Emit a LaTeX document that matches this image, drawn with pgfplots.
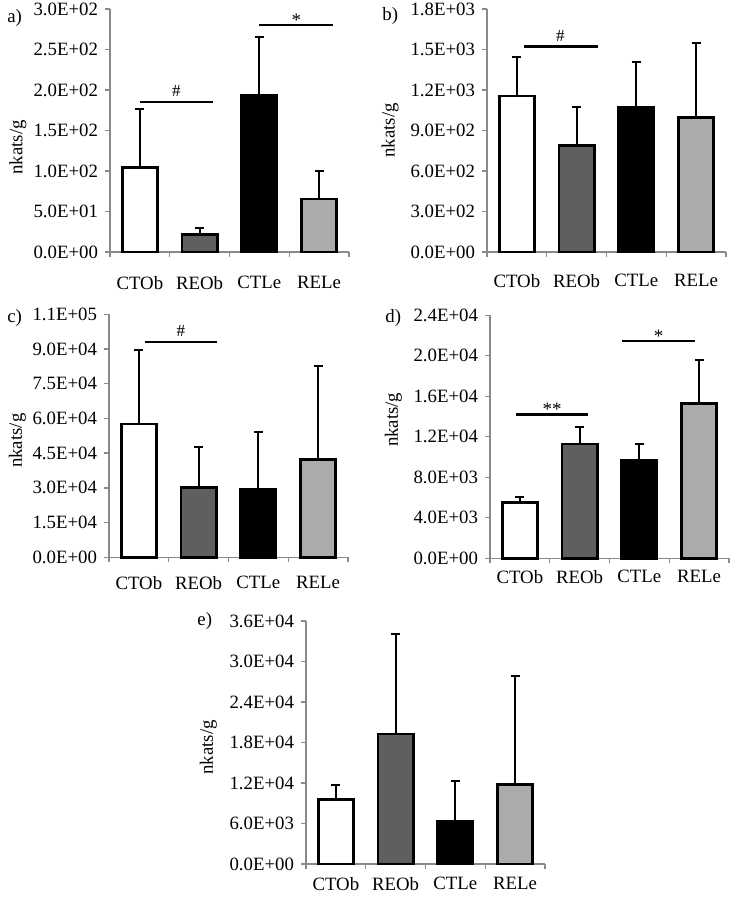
\documentclass[border=0pt]{standalone}
\usepackage{fontspec}
\setmainfont{Liberation Serif}
\usepackage{pgfplots}
\pgfplotsset{compat=1.18}
\definecolor{darkbar}{HTML}{5F5F5F}
\definecolor{lightbar}{HTML}{ABABAB}
\definecolor{axgray}{HTML}{8A8A8A}
\newcommand{\tfont}{\fontsize{9.4}{11}\selectfont}
\pgfplotsset{
  panel/.style={
    width=119.5pt, height=121.5pt, scale only axis, anchor=south west,
    axis x line*=bottom, axis y line*=left,
    axis line style={draw=axgray, line width=0.7pt},
    xmin=-0.5, xmax=3.5, ymin=0,
    xtick={-0.5,0.5,1.5,2.5,3.5},
    x tick label as interval,
    xticklabels={CTOb,REOb,CTLe,RELe},
    scaled y ticks=false,
    tick align=outside,
    major tick length=2.5pt,
    every tick/.style={draw=axgray, line width=0.7pt},
    tick label style={font=\tfont},
    ylabel={nkats/g},
    clip=false,
  },
  mybar/.style={ybar, bar width=0.59, bar shift=0pt, draw=black, line width=1.3pt,
    error bars/y dir=plus, error bars/y explicit,
    error bars/error bar style={line width=1pt, black},
    error bars/error mark options={rotate=90, line width=1pt, mark size=2.2pt, black}},
  sig/.style={black, line width=1.1pt, no marks, forget plot},
}
\newcommand{\hashfont}{\fontsize{8.5}{9}\selectfont}
\newcommand{\starfont}{\fontsize{9.5}{10}\selectfont}
\begin{document}
\begin{tikzpicture}
\path[use as bounding box] (0,0) rectangle (367pt,448.5pt);
% a
\begin{axis}[panel, at={(55pt,322.5pt)}, ymax=300,
  xticklabel style={yshift=-6pt},
  ytick={0,50,100,150,200,250,300},
  yticklabels={0.0E+00,5.0E+01,1.0E+02,1.5E+02,2.0E+02,2.5E+02,3.0E+02},
  ylabel style={at={(rel axis cs:-0.385,0.43)}, anchor=center, font=\tfont}]
\addplot[fill=white, mybar] coordinates {(0,104) +- (0,72.6)};
\addplot[fill=darkbar, mybar] coordinates {(1,21.9) +- (0,8.2)};
\addplot[fill=black, mybar] coordinates {(2,194) +- (0,71.4)};
\addplot[fill=lightbar, mybar] coordinates {(3,65.2) +- (0,35.1)};
\addplot[sig] coordinates {(0,185.6) (1.22,185.6)};
\addplot[sig] coordinates {(2.0,279.8) (3.24,279.8)};
\node[font=\hashfont, anchor=base, yshift=2.5pt] at (axis cs:0.61,185.6) {\#};
\node[font=\starfont, anchor=base, yshift=-0.5pt] at (axis cs:2.62,279.8) {*};
\end{axis}
% b
\begin{axis}[panel, at={(243.5pt,322.5pt)}, ymax=1800,
  xticklabel style={yshift=-5pt},
  ytick={0,300,600,900,1200,1500,1800},
  yticklabels={0.0E+00,3.0E+02,6.0E+02,9.0E+02,1.2E+03,1.5E+03,1.8E+03},
  ylabel style={at={(rel axis cs:-0.405,0.5)}, anchor=center, font=\tfont}]
\addplot[fill=white, mybar] coordinates {(0,1154) +- (0,291)};
\addplot[fill=darkbar, mybar] coordinates {(1,787) +- (0,285)};
\addplot[fill=black, mybar] coordinates {(2,1072) +- (0,338)};
\addplot[fill=lightbar, mybar] coordinates {(3,998) +- (0,551)};
\addplot[sig] coordinates {(0.117,1522) (1.35,1522)};
\node[font=\hashfont, anchor=base, yshift=2.5pt] at (axis cs:0.73,1522) {\#};
\end{axis}
% c
\begin{axis}[panel, at={(54.5pt,169.85pt)}, ymax=105000,
  xticklabel style={yshift=-3.5pt},
  ytick={0,15000,30000,45000,60000,75000,90000,105000},
  yticklabels={0.0E+00,1.5E+04,3.0E+04,4.5E+04,6.0E+04,7.5E+04,9.0E+04,1.1E+05},
  ylabel style={at={(rel axis cs:-0.383,0.48)}, anchor=center, font=\tfont}]
\addplot[fill=white, mybar] coordinates {(0,57534) +- (0,32219)};
\addplot[fill=darkbar, mybar] coordinates {(1,30062) +- (0,17691)};
\addplot[fill=black, mybar] coordinates {(2,29342) +- (0,24596)};
\addplot[fill=lightbar, mybar] coordinates {(3,42144) +- (0,40561)};
\addplot[sig] coordinates {(0.10,93062) (1.31,93062)};
\node[font=\hashfont, anchor=base, yshift=2.5pt] at (axis cs:0.705,93062) {\#};
\end{axis}
% d
\begin{axis}[panel, at={(245pt,169.35pt)}, ymax=24000,
  xticklabel style={yshift=0pt},
  ytick={0,4000,8000,12000,16000,20000,24000},
  yticklabels={0.0E+00,4.0E+03,8.0E+03,1.2E+04,1.6E+04,2.0E+04,2.4E+04},
  ylabel style={at={(rel axis cs:-0.404,0.57)}, anchor=center, font=\tfont}]
\addplot[fill=white, mybar] coordinates {(0,5490) +- (0,526)};
\addplot[fill=darkbar, mybar] coordinates {(1,11277) +- (0,1709)};
\addplot[fill=black, mybar] coordinates {(2,9699) +- (0,1545)};
\addplot[fill=lightbar, mybar] coordinates {(3,15288) +- (0,4339)};
\addplot[sig] coordinates {(-0.065,14203) (1.14,14203)};
\addplot[sig] coordinates {(1.71,21436) (2.93,21436)};
\node[font=\starfont, anchor=base, yshift=-0.5pt] at (axis cs:0.54,14203) {**};
\node[font=\starfont, anchor=base, yshift=-0.5pt] at (axis cs:2.32,21436) {*};
\end{axis}
% e
\begin{axis}[panel, at={(153pt,16.5pt)}, ymax=36000,
  xticklabel style={yshift=-0.5pt},
  ytick={0,6000,12000,18000,24000,30000,36000},
  yticklabels={0.0E+00,6.0E+03,1.2E+04,1.8E+04,2.4E+04,3.0E+04,3.6E+04},
  ylabel style={at={(rel axis cs:-0.408,0.48)}, anchor=center, font=\tfont}]
\addplot[fill=white, mybar] coordinates {(0,9580) +- (0,2173)};
\addplot[fill=darkbar, mybar] coordinates {(1,19259) +- (0,14766)};
\addplot[fill=black, mybar] coordinates {(2,6272) +- (0,6024)};
\addplot[fill=lightbar, mybar] coordinates {(3,11753) +- (0,16049)};
\end{axis}
% panel letters
\node[font=\tfont, anchor=west, inner sep=0pt] at (3.5pt,439.75pt) {a)};
\node[font=\tfont, anchor=west, inner sep=0pt] at (191pt,440.75pt) {b)};
\node[font=\tfont, anchor=west, inner sep=0pt] at (3.5pt,289.75pt) {c)};
\node[font=\tfont, anchor=west, inner sep=0pt] at (192.5pt,289.75pt) {d)};
\node[font=\tfont, anchor=west, inner sep=0pt] at (98.5pt,138pt) {e)};
\end{tikzpicture}
\end{document}
